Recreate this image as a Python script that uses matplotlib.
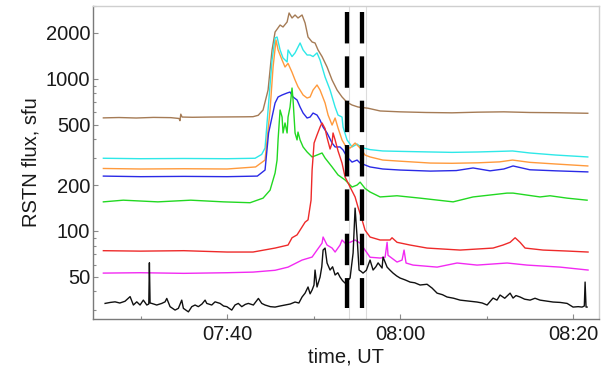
import numpy as np
import matplotlib.pyplot as plt
from matplotlib.ticker import NullFormatter

plt.rcParams['font.family'] = ['Liberation Sans', 'DejaVu Sans']

# time in minutes after 07:00 UT, flux in sfu
t_brown = [25.7, 27.5, 29.5, 31.5, 33.5, 34.45, 34.55, 34.65, 34.8, 36.0, 38.0, 40.0, 42.0, 43.0,
           43.6, 44.16, 44.74, 45.2, 45.55, 46.13, 46.47, 46.94, 47.17, 47.51, 47.86, 48.2, 48.67,
           49.02, 49.36, 49.83, 50.17, 50.52, 50.98, 51.56, 52.14, 52.72, 53.29, 53.87, 54.45,
           55.14, 56.3, 57.7, 60.0, 63.0, 66.0, 69.0, 72.0, 75.0, 78.0, 81.7]
f_brown = [553, 556, 552, 557, 555, 548, 530, 585, 560, 558, 560, 561, 562, 563,
           575, 623, 843, 1546, 2030, 2257, 2190, 2363, 2708, 2510, 2627, 2510, 2627,
           2327, 1882, 1745, 1719, 1546, 1400, 1195, 981, 843, 759, 700, 672,
           652, 640, 614, 606, 600, 597, 603, 606, 600, 598, 593]

t_cyan = [25.7, 30.0, 35.0, 40.0, 43.24, 44.0, 44.39, 44.74, 45.2, 45.55, 45.78, 46.13, 46.47,
          46.94, 47.05, 47.51, 47.86, 48.44, 48.79, 49.25, 49.6, 49.94, 50.4, 50.75, 51.33,
          51.91, 52.49, 52.83, 53.29, 53.41, 53.87, 54.45, 55.03, 55.6, 56.53, 58.0, 60.0,
          63.5, 66.0, 69.0, 71.5, 73.0, 75.0, 78.0, 81.7]
f_cyan = [300, 298, 299, 298, 300, 318, 350, 623, 1328, 1854, 1882, 1546, 1369,
          1290, 1546, 1400, 1480, 1719, 1546, 1433, 1433, 1400, 1480, 1328, 1027,
          843, 652, 577, 560, 481, 396, 356, 372, 352, 342, 335, 333,
          330, 328, 330, 333, 335, 325, 315, 306]

t_orange = [25.7, 30.0, 35.0, 40.0, 43.3, 44.39, 44.97, 45.32, 45.66, 45.9, 46.36, 46.7, 47.05,
            47.51, 47.86, 48.2, 48.79, 49.25, 49.6, 49.94, 50.4, 50.75, 51.33, 51.68, 52.14,
            52.49, 52.83, 53.29, 53.76, 54.22, 54.8, 55.38, 55.95, 56.53, 58.0, 60.0, 63.5,
            66.0, 69.0, 71.5, 73.0, 75.0, 78.0, 81.7]
f_orange = [257, 255, 256, 255, 263, 292, 623, 1195, 1799, 1546, 1328, 1195, 1262,
            1103, 981, 886, 782, 747, 759, 843, 910, 843, 693, 577, 496,
            552, 474, 396, 356, 350, 378, 350, 315, 306, 292, 287, 279,
            278, 280, 284, 292, 282, 275, 267]

t_blue = [25.7, 30.0, 35.0, 40.0, 43.5, 44.39, 44.8, 45.55, 45.9, 46.36, 46.94, 47.28, 47.63,
          48.09, 48.44, 48.79, 49.25, 49.6, 49.94, 50.4, 50.75, 51.1, 51.56, 52.14, 52.49,
          53.06, 53.41, 53.87, 54.45, 55.03, 55.38, 55.95, 56.53, 58.0, 60.0, 63.5, 66.5,
          68.44, 70.4, 72.0, 73.06, 75.0, 78.0, 81.7]
f_blue = [229, 227, 228, 227, 229, 251, 440, 693, 759, 782, 806, 818, 759,
          725, 652, 595, 552, 560, 595, 577, 535, 481, 440, 378, 356,
          356, 340, 306, 283, 292, 279, 271, 263, 255, 251, 247, 249,
          259, 248, 255, 267, 252, 248, 244]

t_green = [25.7, 28.0, 32.0, 35.8, 39.6, 42.66, 44.16, 44.97, 45.55, 45.78, 45.9, 46.13, 46.36,
           46.47, 46.7, 46.94, 47.05, 47.28, 47.51, 47.63, 47.86, 48.09, 48.2, 48.44, 48.79,
           49.25, 49.83, 50.4, 50.98, 51.33, 52.14, 52.83, 53.64, 54.45, 55.03, 55.38, 55.95,
           56.53, 57.69, 59.65, 62.31, 66.13, 68.44, 72.37, 73.06, 76.18, 77.34, 79.31, 81.62]
f_green = [155, 159, 155, 159, 155, 153, 164, 185, 240, 292, 400, 623, 560,
           440, 512, 440, 560, 652, 869, 725, 440, 396, 446, 396, 356,
           330, 306, 315, 325, 301, 263, 233, 216, 194, 200, 209, 190,
           180, 167, 170, 164, 155, 167, 177, 177, 167, 170, 164, 159]

t_red = [25.7, 30.0, 35.0, 40.0, 43.0, 45.55, 47.05, 47.51, 48.09, 48.67, 49.02, 49.36, 49.71,
         49.83, 50.06, 50.4, 50.75, 50.98, 51.33, 51.56, 51.91, 52.14, 52.25, 52.49, 52.83,
         53.29, 53.64, 54.22, 54.8, 55.14, 55.61, 55.95, 56.53, 57.69, 58.84, 59.07, 59.65,
         61.16, 63.12, 66.94, 70.75, 71.9, 72.72, 73.3, 73.87, 74.45, 76.53, 79.31, 81.73]
f_red = [74, 73.5, 74, 72.5, 72.5, 77, 80.6, 90, 94, 106, 114, 118, 159,
         251, 378, 427, 481, 512, 470, 410, 345, 378, 440, 396, 335,
         279, 226, 194, 167, 143, 118, 101, 91, 87, 87, 90, 84,
         80.6, 77, 74.7, 77, 80.6, 84, 90, 84, 77, 74.7, 73.6, 72.5]

t_magenta = [25.7, 30.0, 35.0, 40.0, 43.0, 45.55, 47.05, 48.67, 49.83, 50.4, 50.98, 51.1, 51.56,
             52.14, 52.49, 53.06, 53.29, 53.64, 54.22, 54.8, 55.38, 55.95, 56.53, 57.69, 58.27,
             58.5, 58.61, 59.65, 60.23, 60.46, 60.69, 61.5, 64.28, 66.59, 68.9, 72.37, 74.68,
             78.5, 81.73]
f_magenta = [52.7, 53, 52.5, 53, 53.5, 55, 57.7, 64.2, 67.2, 74.7, 83, 91, 80.6,
             77, 72.5, 80.6, 87, 83, 84, 87, 83, 74.7, 67, 66.2, 67,
             84, 69, 62.3, 64.2, 74.7, 61.4, 59.5, 57.7, 61.4, 59.5, 61.4, 59.5,
             57.7, 55.2]

t_black = [25.9, 26.5, 27.05, 27.6, 28.2, 28.79, 29.17, 29.56, 29.94, 30.32, 30.72, 30.95, 31.02,
           31.1, 31.29, 31.87, 32.45, 32.83, 33.03, 33.41, 33.99, 34.37, 34.76, 34.95, 35.53,
           35.92, 36.3, 36.68, 37.1, 37.46, 37.65, 38.23, 38.61, 39.19, 39.6, 39.97, 40.54,
           40.92, 41.3, 41.7, 42.1, 42.46, 43.04, 43.62, 44.01, 44.39, 45.0, 45.55, 46.1,
           46.71, 47.3, 47.86, 48.3, 48.67, 49.02, 49.36, 49.6, 49.83, 50.05, 50.17, 50.4,
           50.75, 50.95, 51.1, 51.33, 51.56, 51.91, 52.2, 52.49, 52.8, 53.06, 53.35, 53.64,
           53.95, 54.22, 54.57, 54.8, 55.03, 55.26, 55.5, 55.72, 56.1, 56.53, 56.88, 57.2,
           57.46, 57.92, 58.03, 58.5, 58.85, 59.19, 59.6, 60.0, 60.6, 61.16, 61.7, 62.31,
           63.12, 63.7, 64.28, 64.9, 65.43, 66.2, 66.94, 67.9, 68.9, 69.5, 70.06, 70.75,
           71.2, 71.56, 72.1, 72.72, 73.06, 73.4, 73.87, 74.4, 75.03, 75.6, 76.18, 76.9,
           77.69, 78.5, 79.31, 80.0, 80.6, 81.04, 81.3, 81.39, 81.5, 81.62]
f_black = [33.3, 33.8, 34.1, 33.5, 34.4, 36.9, 32.5, 34.1, 32.5, 35.0, 32.5, 33.0, 61.6,
           33.5, 33.3, 32.5, 33.3, 34.1, 35.9, 31.7, 30.1, 30.9, 35.0, 30.9, 29.3,
           31.7, 32.5, 31.7, 33.0, 35.0, 33.3, 32.5, 34.1, 33.3, 32.0, 31.7, 30.1,
           32.5, 33.3, 31.7, 32.8, 33.3, 32.5, 35.9, 33.3, 32.5, 31.7, 31.5, 32.0,
           32.5, 33.0, 34.0, 33.5, 36.7, 38.9, 42.7, 38.5, 40.8, 44.0, 55.2, 42.7,
           49.6, 58.0, 74.7, 77.0, 61.4, 55.2, 58.0, 51.2, 53.0, 49.6, 47.0, 45.3,
           47.0, 48.9, 71.4, 141, 91, 55.2, 54.0, 52.7, 55.0, 64.2, 55.2, 58.0,
           61.5, 56.9, 67.2, 57.7, 55.0, 52.7, 50.5, 48.9, 47.5, 46.0, 45.5, 44.0,
           44.5, 42.0, 38.9, 38.0, 36.7, 36.0, 35.0, 34.5, 34.0, 33.5, 32.5, 36.1,
           35.0, 37.8, 36.0, 38.9, 36.1, 37.5, 36.7, 35.5, 35.0, 36.0, 35.0, 34.5,
           34.0, 33.8, 33.3, 31.5, 31.7, 31.5, 32.0, 46.0, 31.5, 31.5]

series = [
    (t_brown, f_brown, '#a57b55'),
    (t_cyan, f_cyan, '#2ee8e8'),
    (t_orange, f_orange, '#ff9a3c'),
    (t_blue, f_blue, '#2a2ae6'),
    (t_green, f_green, '#22d822'),
    (t_red, f_red, '#ee2a2a'),
    (t_magenta, f_magenta, '#f22af2'),
    (t_black, f_black, '#111111'),
]

marked_times = [53.87, 55.61]     # dashed markers
guide_times = [54.05, 56.05]      # thin grey guides

ytick_vals = [50, 100, 200, 500, 1000, 2000]
xtick_vals = [40, 60, 80]
xtick_labels = ['07:40', '08:00', '08:20']
xminor_vals = [30, 50, 70]

fig = plt.figure(figsize=(6.13, 3.73), dpi=100)
ax = fig.add_axes([0.1517, 0.1448, 0.8255, 0.8391])

for tx in guide_times:
    ax.axvline(tx, color='#dcdcdc', lw=0.8, zorder=1)

for t, f, c in series:
    ax.plot(t, f, color=c, lw=1.0, zorder=2)

for tx in marked_times:
    ax.plot([tx, tx], [0.98, 0.035], transform=ax.get_xaxis_transform(),
            color='black', lw=3.1, dashes=(7.3, 3.0), solid_capstyle='butt',
            dash_capstyle='butt', zorder=3)

ax.set_yscale('log')
ax.set_ylim(26.3, 3010)
ax.set_xlim(24.5, 83.0)

ax.set_yticks(ytick_vals, [str(v) for v in ytick_vals])
ax.yaxis.set_minor_formatter(NullFormatter())
ax.set_xticks(xtick_vals, xtick_labels)
ax.set_xticks(xminor_vals, minor=True)

ax.tick_params(which='both', direction='in', color='#8c8c8c', width=0.8,
               labelsize=14.5, labelcolor='#1a1a1a')
ax.tick_params(which='major', length=3.5)
ax.tick_params(which='minor', length=2.5)
ax.tick_params(axis='y', pad=2)
ax.tick_params(axis='x', pad=4)

for side in ['left', 'bottom']:
    ax.spines[side].set_color('#7a7a7a')
for side in ['top', 'right']:
    ax.spines[side].set_color('#cfcfcf')
for s in ax.spines.values():
    s.set_linewidth(1.0)

ax.set_xlabel('time, UT', fontsize=14.5, color='#1a1a1a', labelpad=3)
ax.set_ylabel('RSTN flux, sfu', fontsize=14.5, color='#1a1a1a', labelpad=4)

fig.savefig('out.png', dpi=100)
